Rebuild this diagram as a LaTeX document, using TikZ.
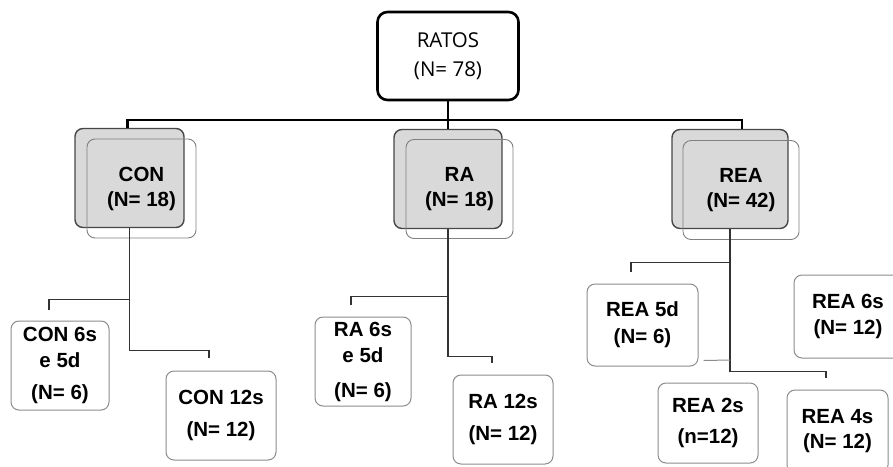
\documentclass[tikz,border=0pt]{standalone}
\usepackage{fontspec}
\setmainfont{Liberation Sans}
\newfontfamily\ratosfont{Open Sans}

\begin{document}
\begin{tikzpicture}[x=1pt,y=-1pt,
    root/.style={draw=black,line width=2.6pt,rounded corners=10pt,fill=white,
      minimum width=141pt,minimum height=88pt,inner sep=0pt,align=center,
      font=\ratosfont\fontsize{20.5}{29}\selectfont},
    grp/.style={draw=black!72,line width=1.4pt,fill=black!15,rounded corners=8pt,
      minimum height=99pt,inner sep=0pt},
    grpline/.style={draw=black!50,line width=0.9pt,rounded corners=8pt,
      minimum height=99pt,inner sep=0pt,align=center,
      font=\bfseries\fontsize{20.5}{25}\selectfont},
    leaf/.style={draw=black!45,line width=1pt,rounded corners=8pt,inner sep=0pt,
      align=center,font=\bfseries\fontsize{20.5}{26}\selectfont},
    trunk/.style={black,line width=2.6pt},
    link/.style={black!80,line width=1.2pt}]
  \useasboundingbox (0,0) rectangle (893,466);

  \node (ratos) [root] at (448,56) {RATOS\\(N= 78)};

  \node (con) [grp,minimum width=109pt] at (129.5,178) {};
  \node (ra) [grp,minimum width=108pt] at (448,179) {};
  \node (rea) [grp,minimum width=116pt] at (730,179) {};
  \node (conb) [grpline,minimum width=109pt] at (141.5,188.5) {CON\\(N= 18)};
  \node (rab) [grpline,minimum width=107pt] at (459.5,189) {RA\\(N= 18)};
  \node (reab) [grpline,minimum width=116pt] at (741,190) {REA\\(N= 42)};

  \node (con6s) [leaf,minimum width=98pt,minimum height=89pt] at (60,365.5) {CON 6s\\e 5d\\[6pt](N= 6)};
  \node (con12s) [leaf,minimum width=110pt,minimum height=89pt] at (221,415.5) {CON 12s\\[6pt](N= 12)};
  \node (ra6s) [leaf,minimum width=96pt,minimum height=89pt] at (363,361.5) {RA 6s\\e 5d\\[9pt](N= 6)};
  \node (ra12s) [leaf,minimum width=100pt,minimum height=89pt] at (503,419.5) {RA 12s\\[6pt](N= 12)};
  \node (rea5d) [leaf,minimum width=111pt,minimum height=82pt] at (642.5,325) {REA 5d\\[1pt](N= 6)};
  \node (rea6s) [leaf,minimum width=108pt,minimum height=83pt] at (848,316.5) {REA 6s\\(N= 12)};
  \node (rea2s) [leaf,minimum width=100pt,minimum height=80pt] at (708,423) {REA 2s\\[5pt](n=12)};
  \node (rea4s) [leaf,minimum width=101pt,minimum height=83pt] at (837.5,431.5) {REA 4s\\[-1pt](N= 12)};

  \coordinate (bar) at (448,120);
  \draw[trunk] (ratos.south) -- (ra.north);
  \draw[trunk] ([xshift=-2pt]con.north) |- (bar) -| ([xshift=12pt]rea.north);

  \coordinate (con6s-in) at ([xshift=-11pt,yshift=11pt]con6s.north);
  \coordinate (con12s-in) at ([xshift=-12pt,yshift=13pt]con12s.north);
  \coordinate (ra6s-in) at ([xshift=-12pt,yshift=12pt]ra6s.north);
  \coordinate (ra12s-in) at ([xshift=-11pt,yshift=12pt]ra12s.north);
  \coordinate (rea5d-in) at ([xshift=-11.5pt,yshift=12pt]rea5d.north);
  \coordinate (rea4s-in) at ([xshift=-11.5pt,yshift=12pt]rea4s.north);

  \draw[link] (con.south) -- ++(0,122) -| (con12s-in);
  \draw[link] (con6s-in) -- ++(0,-10) -| (con.south);
  \draw[link] (ra.south) -- ++(0,127) -| (ra12s-in);
  \draw[link] (ra6s-in) -- ++(0,-8) -| (ra.south);
  \draw[link] (rea.south) -- ++(0,142) -| (rea4s-in);
  \draw[link] (rea5d-in) -- ++(0,-9) -| (rea.south);
  \draw[black!45,line width=1pt] ([xshift=5pt,yshift=6pt]rea5d.south east) -- (rea.south |- 0,360);
\end{tikzpicture}
\end{document}
